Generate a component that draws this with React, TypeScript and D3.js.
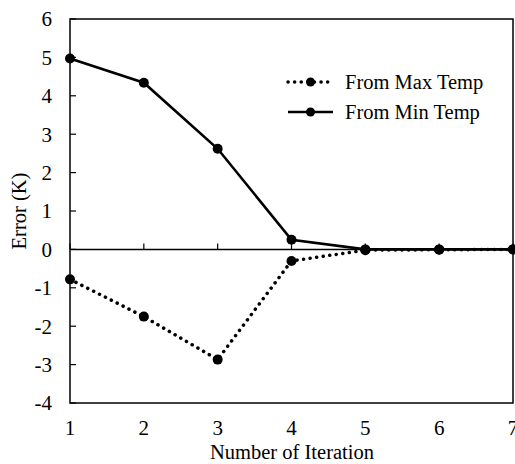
import React from "react";
import * as d3 from "d3";

const iterations = [1, 2, 3, 4, 5, 6, 7];
const fromMaxTemp = [-0.78, -1.75, -2.87, -0.3, -0.02, -0.01, 0.0];
const fromMinTemp = [4.97, 4.34, 2.62, 0.25, 0.0, 0.0, 0.0];
const yTicks = [-4, -3, -2, -1, 0, 1, 2, 3, 4, 5, 6];
const xTicks = [1, 2, 3, 4, 5, 6, 7];
const seriesNames = ["From Max Temp", "From Min Temp"];

const W = 515, H = 464;
const left = 70, right = 513, top = 19, bottom = 403;
const font = '"Liberation Serif", "Times New Roman", Times, serif';
const ts = { fontFamily: font } as React.CSSProperties;

export default function App() {
  const x = d3.scaleLinear().domain([1, 7]).range([left, right]);
  const y = d3.scaleLinear().domain([-4, 6]).range([bottom, top]);
  const line = d3.line<number>().x((_, i) => x(iterations[i])).y((d) => y(d));
  const series = [
    { name: seriesNames[0], data: fromMaxTemp, dash: "0.1 6.5", width: 3.5, cap: "round" },
    { name: seriesNames[1], data: fromMinTemp, dash: undefined, width: 2.6, cap: "butt" },
  ];
  return (
    <svg width={W} height={H} style={{ position: "absolute", left: 0, top: 0 }}>
      <rect x={0} y={0} width={W} height={H} fill="#fff" />
      <rect x={left} y={top} width={right - left} height={bottom - top} fill="none" stroke="#000" strokeWidth={1.5} />
      <line x1={left} x2={right} y1={y(0)} y2={y(0)} stroke="#000" strokeWidth={1.5} />
      {xTicks.map((t) => (
        <line key={"xt" + t} x1={x(t)} x2={x(t)} y1={y(0)} y2={y(0) - 6} stroke="#000" strokeWidth={1.2} />
      ))}
      {yTicks.map((t) => (
        <g key={"yt" + t}>
          <line x1={left} x2={left + 6} y1={y(t)} y2={y(t)} stroke="#000" strokeWidth={1.2} />
          <text x={52} y={y(t)} dy="0.35em" textAnchor="end" style={ts} fontSize={21} fill="#000">{t}</text>
        </g>
      ))}
      {xTicks.map((t) => (
        <text key={"xl" + t} x={x(t)} y={428} dy="0.35em" textAnchor="middle" style={ts} fontSize={21} fill="#000">{t}</text>
      ))}
      <text x={292} y={452} dy="0.35em" textAnchor="middle" style={ts} fontSize={20.5} fill="#000">Number of Iteration</text>
      <text transform={`translate(19,${(top + bottom) / 2}) rotate(-90)`} dy="0.35em" textAnchor="middle" style={ts} fontSize={20.5} fill="#000">Error (K)</text>
      {series.map((s) => (
        <g key={s.name}>
          <path d={line(s.data) || ""} fill="none" stroke="#000" strokeWidth={s.width} strokeDasharray={s.dash} strokeLinecap={s.cap as any} />
          {s.data.map((v, i) => (
            <circle key={i} cx={x(iterations[i])} cy={y(v)} r={5} fill="#000" />
          ))}
        </g>
      ))}
      {series.map((s, i) => {
        const ly = 82 + i * 30;
        return (
          <g key={"lg" + s.name}>
            <line x1={288} x2={333} y1={ly} y2={ly} stroke="#000" strokeWidth={s.width} strokeDasharray={s.dash} strokeLinecap={s.cap as any} />
            <circle cx={310.5} cy={ly} r={4.5} fill="#000" />
            <text x={345} y={ly} dy="0.35em" style={ts} fontSize={20.5} fill="#000">{s.name}</text>
          </g>
        );
      })}
    </svg>
  );
}
